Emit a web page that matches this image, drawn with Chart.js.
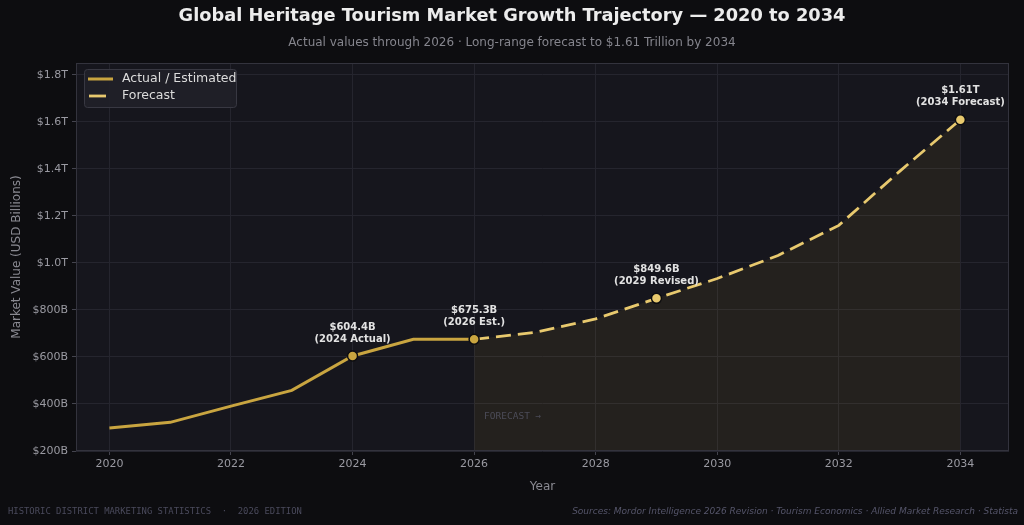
<!DOCTYPE html>
<html><head><meta charset="utf-8">
<script src="https://cdn.jsdelivr.net/npm/chart.js@4.4.1/dist/chart.umd.min.js"></script>
<style>html,body{margin:0;padding:0;background:#0d0d10;}#wrap{width:1024px;height:525px;position:relative;}</style>
</head><body><div id="wrap"><canvas id="c" width="1024" height="525"></canvas></div>
<script>
const actualYears = [2020, 2021, 2022, 2023, 2024, 2025, 2026];
const actualValues = [298, 322, 391, 458, 604.4, 675.3, 675.3];
const forecastYears = [2026, 2027, 2028, 2029, 2030, 2031, 2032, 2033, 2034];
const forecastValues = [675.3, 705, 762, 849.6, 934, 1032, 1160, 1390, 1610];
const xTickValues = [2020, 2022, 2024, 2026, 2028, 2030, 2032, 2034];
const yTickValues = [200, 400, 600, 800, 1000, 1200, 1400, 1600, 1800];
const annotations = [
  {year: 2024, value: 604.4, line1: '$604.4B', line2: '(2024 Actual)'},
  {year: 2026, value: 675.3, line1: '$675.3B', line2: '(2026 Est.)'},
  {year: 2029, value: 849.6, line1: '$849.6B', line2: '(2029 Revised)'},
  {year: 2034, value: 1610, line1: '$1.61T', line2: '(2034 Forecast)'}
];
const markedActual = [2024, 2026];
const markedForecast = [2029, 2034];

const GOLD = '#c9a540', LIGHT = '#e8c96e';

const decor = {
  id: 'decor',
  beforeDraw(chart) {
    const {ctx, chartArea: a} = chart;
    ctx.save();
    ctx.fillStyle = '#0d0d10';
    ctx.fillRect(0, 0, chart.width, chart.height);
    ctx.fillStyle = '#16161d';
    ctx.fillRect(a.left, a.top, a.right - a.left, a.bottom - a.top);
    ctx.restore();
  },
  afterDatasetsDraw(chart) {
    const {ctx, chartArea: a, scales: {x, y}} = chart;
    ctx.save();
    ctx.strokeStyle = '#33333d';
    ctx.lineWidth = 1;
    ctx.strokeRect(a.left + 0.5, a.top + 0.5, a.right - a.left - 1, a.bottom - a.top - 1);
    ctx.fillStyle = '#e2e2e2';
    ctx.font = 'bold 10px "DejaVu Sans"';
    ctx.textAlign = 'center';
    ctx.textBaseline = 'middle';
    annotations.forEach(an => {
      const px = x.getPixelForValue(an.year), py = y.getPixelForValue(an.value);
      ctx.fillText(an.line1, px, py - 29);
      ctx.fillText(an.line2, px, py - 17);
    });
    ctx.fillStyle = '#4c4c58';
    ctx.font = '9.5px "DejaVu Sans Mono"';
    ctx.textAlign = 'left';
    ctx.fillText('FORECAST \u2192', x.getPixelForValue(2026) + 10, 417);
    const lx = 84, ly = 69, lw = 152, lh = 38;
    ctx.fillStyle = 'rgba(32,32,40,0.95)';
    ctx.strokeStyle = '#383842';
    ctx.beginPath();
    ctx.roundRect(lx + 0.5, ly + 0.5, lw, lh, 3);
    ctx.fill(); ctx.stroke();
    ctx.lineCap = 'butt';
    ctx.strokeStyle = GOLD; ctx.lineWidth = 3;
    ctx.beginPath(); ctx.moveTo(88, 79); ctx.lineTo(113, 79); ctx.stroke();
    ctx.strokeStyle = LIGHT; ctx.lineWidth = 2.8;
    ctx.beginPath(); ctx.moveTo(89, 96); ctx.lineTo(106, 96); ctx.stroke();
    ctx.fillStyle = '#dcdcdc';
    ctx.font = '12.5px "DejaVu Sans"';
    ctx.fillText('Actual / Estimated', 122, 79);
    ctx.fillText('Forecast', 122, 96);
    ctx.textAlign = 'center';
    ctx.fillStyle = '#ececec';
    ctx.font = 'bold 17.8px "DejaVu Sans"';
    ctx.fillText('Global Heritage Tourism Market Growth Trajectory \u2014 2020 to 2034', 512, 16);
    ctx.fillStyle = '#85858d';
    ctx.font = '12px "DejaVu Sans"';
    ctx.fillText('Actual values through 2026 \u00b7 Long-range forecast to $1.61 Trillion by 2034', 512, 43);
    ctx.fillStyle = '#8a8a92';
    ctx.font = '12px "DejaVu Sans"';
    ctx.fillText('Year', (a.left + a.right) / 2, 487);
    ctx.save();
    ctx.translate(17, (a.top + a.bottom) / 2);
    ctx.rotate(-Math.PI / 2);
    ctx.fillText('Market Value (USD Billions)', 0, 0);
    ctx.restore();
    ctx.textAlign = 'left';
    ctx.fillStyle = '#4a4a5c';
    ctx.font = '8.9px "DejaVu Sans Mono"';
    ctx.fillText('HISTORIC DISTRICT MARKETING STATISTICS  \u00b7  2026 EDITION', 8, 512);
    ctx.textAlign = 'right';
    ctx.fillStyle = '#55556a';
    ctx.font = 'italic 9px "DejaVu Sans"';
    ctx.fillText('Sources: Mordor Intelligence 2026 Revision \u00b7 Tourism Economics \u00b7 Allied Market Research \u00b7 Statista', 1018, 512);
    ctx.restore();
  }
};

const actualData = actualYears.map((yr, i) => ({x: yr, y: actualValues[i]}));
const forecastData = forecastYears.map((yr, i) => ({x: yr, y: forecastValues[i]}));

new Chart(document.getElementById('c'), {
  type: 'line',
  data: {
    datasets: [
      {
        label: 'Actual / Estimated',
        data: actualData,
        borderColor: GOLD,
        borderWidth: 3,
        pointRadius: actualYears.map(yr => markedActual.includes(yr) ? 5 : 0),
        pointBackgroundColor: GOLD,
        pointBorderColor: '#0d0d10',
        pointBorderWidth: 1.5,
        fill: false,
        tension: 0
      },
      {
        label: 'Forecast',
        data: forecastData,
        borderColor: LIGHT,
        borderWidth: 2.8,
        borderDash: [15, 7],
        pointRadius: forecastYears.map(yr => markedForecast.includes(yr) ? 5 : 0),
        pointBackgroundColor: LIGHT,
        pointBorderColor: '#0d0d10',
        pointBorderWidth: 1.5,
        fill: 'start',
        backgroundColor: 'rgba(201,160,50,0.08)',
        tension: 0
      }
    ]
  },
  options: {
    responsive: false,
    animation: false,
    events: [],
    layout: {padding: {left: 0, right: 15, top: 63, bottom: 0}},
    plugins: {legend: {display: false}, tooltip: {enabled: false}, title: {display: false}},
    scales: {
      x: {
        type: 'linear',
        min: 2019.45,
        max: 2034.8,
        afterBuildTicks: s => { s.ticks = xTickValues.map(v => ({value: v})); },
        afterFit: s => { s.height = 74; },
        grid: {color: '#25252e', tickColor: '#44444e', tickLength: 4, drawTicks: true},
        border: {display: false},
        ticks: {color: '#9a9aa2', font: {family: 'DejaVu Sans', size: 11}, padding: 3, callback: v => String(v), maxRotation: 0}
      },
      y: {
        min: 200,
        max: 1851,
        afterBuildTicks: s => { s.ticks = yTickValues.map(v => ({value: v})); },
        afterFit: s => { s.width = 76; },
        grid: {color: '#25252e', tickColor: '#44444e', tickLength: 4, drawTicks: true},
        border: {display: false},
        ticks: {color: '#9a9aa2', font: {family: 'DejaVu Sans', size: 11}, padding: 4,
          callback: v => v >= 1000 ? '$' + (v / 1000).toFixed(1) + 'T' : '$' + v + 'B'}
      }
    }
  },
  plugins: [decor]
});
</script></body></html>
